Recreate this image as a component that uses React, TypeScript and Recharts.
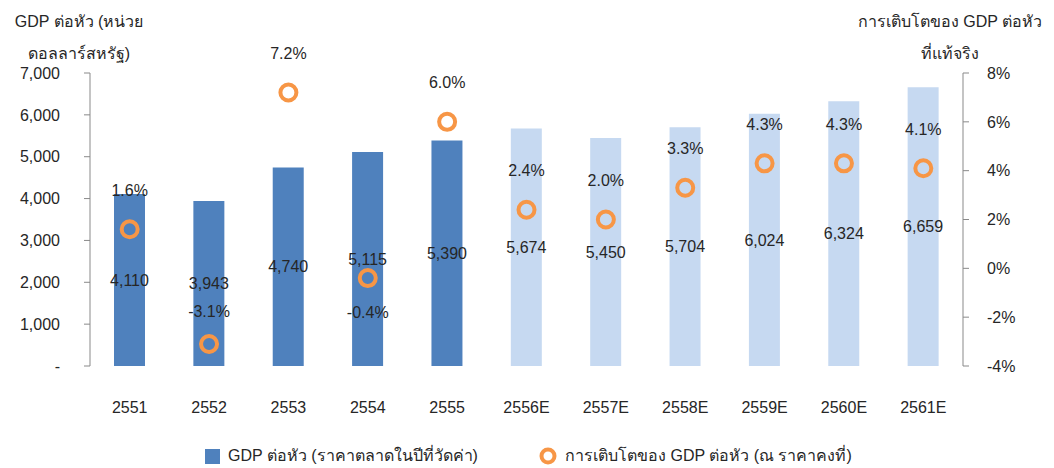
import React from "react"
import {
  ComposedChart,
  Bar,
  Line,
  Cell,
  XAxis,
  YAxis,
  LabelList,
} from "recharts"

const years = ["2551", "2552", "2553", "2554", "2555", "2556E", "2557E", "2558E", "2559E", "2560E", "2561E"]
const gdpPerCapita = [4110, 3943, 4740, 5115, 5390, 5674, 5450, 5704, 6024, 6324, 6659]
const realGrowth = [1.6, -3.1, 7.2, -0.4, 6.0, 2.4, 2.0, 3.3, 4.3, 4.3, 4.1]
const leftTicks = [0, 1000, 2000, 3000, 4000, 5000, 6000, 7000]
const rightTicks = [-4, -2, 0, 2, 4, 6, 8]

const data = years.map((year, i) => ({
  year,
  gdp: gdpPerCapita[i],
  growth: realGrowth[i],
}))

const FONT = "'Liberation Sans', Arial, 'Noto Sans', sans-serif"
const DARK = "#4F81BD"
const LIGHT = "#C6D9F1"
const ORANGE = "#F79646"
const AXIS = "#898989"
const TEXT = "#262626"

const tickStyle = { fill: TEXT, fontSize: 16, fontFamily: FONT }

// label above the ring, except -0.4% which sits below
function GrowthLabel(props: any) {
  const { x, y, value, index } = props
  let dy = -39
  if (index === 3) dy = 34
  if (index === 1) dy = -33
  return (
    <text
      x={x}
      y={y + dy}
      textAnchor="middle"
      dominantBaseline="central"
      fill={TEXT}
      fontSize={16}
      fontFamily={FONT}
    >
      {Number(value).toFixed(1)}%
    </text>
  )
}

export default function App() {
  return (
    <div style={{ position: "absolute", left: 0, top: 0, width: 1054, height: 468, background: "#fff", fontFamily: FONT, color: TEXT }}>
      <div style={{ position: "absolute", left: 0, top: 6, width: 158, textAlign: "center", fontSize: 16, lineHeight: "32px" }}>
        GDP ต่อหัว (หน่วย
        <br />
        ดอลลาร์สหรัฐ)
      </div>
      <div style={{ position: "absolute", left: 846, top: 6, width: 208, textAlign: "center", fontSize: 16, lineHeight: "32px" }}>
        การเติบโตของ GDP ต่อหัว
        <br />
        ที่แท้จริง
      </div>
      <ComposedChart
        width={1054}
        height={468}
        data={data}
        margin={{ top: 73, right: 0, left: 0, bottom: 62 }}
        barCategoryGap={24}
      >
        <XAxis
          xAxisId="grid"
          type="number"
          domain={[0, years.length]}
          ticks={years.map((_, i) => i).concat([years.length])}
          height={0}
          stroke={AXIS}
          tickSize={6}
          tickFormatter={() => ""}
          allowDataOverflow
        />
        <XAxis
          xAxisId="cat"
          dataKey="year"
          height={40}
          axisLine={false}
          tickLine={false}
          tick={tickStyle}
          tickMargin={30}
          interval={0}
        />
        <YAxis
          yAxisId="left"
          width={90}
          domain={[0, 7000]}
          ticks={leftTicks}
          stroke={AXIS}
          tickSize={6}
          tickMargin={24}
          tick={tickStyle}
          tickFormatter={(v: number) => (v === 0 ? "-" : v.toLocaleString("en-US"))}
        />
        <YAxis
          yAxisId="right"
          orientation="right"
          width={91}
          domain={[-4, 8]}
          ticks={rightTicks}
          stroke={AXIS}
          tickSize={6}
          tickMargin={18}
          tick={{ ...tickStyle, textAnchor: "start" }}
          tickFormatter={(v: number) => `${v}%`}
        />
        <Bar
          xAxisId="cat"
          yAxisId="left"
          dataKey="gdp"
          barSize={31}
          isAnimationActive={false}
        >
          {data.map((d) => (
            <Cell key={d.year} fill={d.year.endsWith("E") ? LIGHT : DARK} />
          ))}
          <LabelList
            dataKey="gdp"
            position="center"
            fill={TEXT}
            fontSize={16}
            fontFamily={FONT}
            formatter={(v: any) => Number(v).toLocaleString("en-US")}
          />
        </Bar>
        <Line
          xAxisId="cat"
          yAxisId="right"
          dataKey="growth"
          stroke="none"
          dot={{ r: 8, stroke: ORANGE, strokeWidth: 4, fill: "none" }}
          activeDot={false}
          isAnimationActive={false}
        >
          <LabelList dataKey="growth" content={GrowthLabel} />
        </Line>
      </ComposedChart>
      <div style={{ position: "absolute", left: 205, top: 449, width: 15, height: 15, background: DARK }} />
      <div style={{ position: "absolute", left: 228, top: 446, fontSize: 16, lineHeight: "20px", whiteSpace: "nowrap" }}>
        GDP ต่อหัว (ราคาตลาดในปีที่วัดค่า)
      </div>
      <svg style={{ position: "absolute", left: 538, top: 446 }} width={20} height={20}>
        <circle cx={10} cy={10} r={6.5} stroke={ORANGE} strokeWidth={4} fill="none" />
      </svg>
      <div style={{ position: "absolute", left: 565, top: 446, fontSize: 16, lineHeight: "20px", whiteSpace: "nowrap" }}>
        การเติบโตของ GDP ต่อหัว (ณ ราคาคงที่)
      </div>
    </div>
  )
}
